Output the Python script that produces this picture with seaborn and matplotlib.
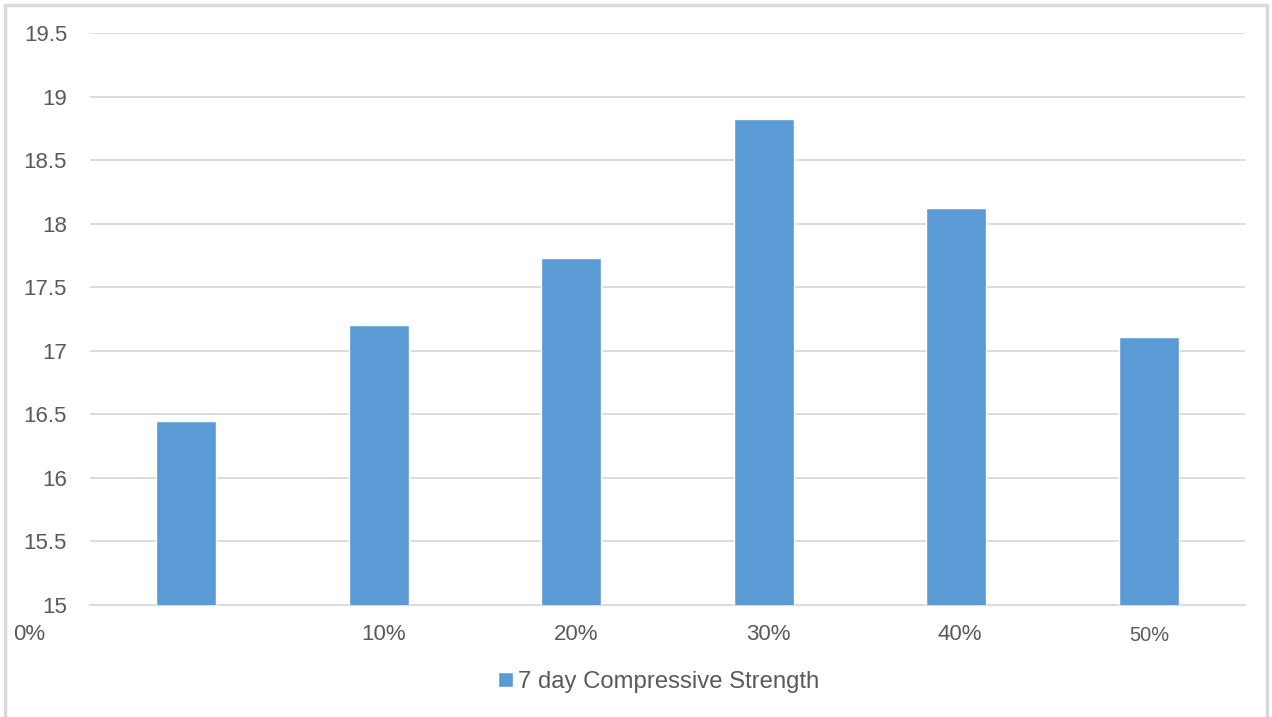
import matplotlib
matplotlib.use("Agg")
import matplotlib.pyplot as plt
import matplotlib.transforms as mtransforms
from matplotlib.patches import Rectangle
import seaborn as sns
import pandas as pd

# Replacement levels and 7-day compressive strength
categories = ["0%", "10%", "20%", "30%", "40%", "50%"]
strength = [16.45, 17.20, 17.73, 18.82, 18.12, 17.11]
series_name = "7 day Compressive Strength"
y_ticks = [15, 15.5, 16, 16.5, 17, 17.5, 18, 18.5, 19, 19.5]

df = pd.DataFrame({"level": categories, "strength": strength})

sns.set_theme(style="white")
plt.rcParams["font.family"] = ["Liberation Sans", "DejaVu Sans"]

BAR = "#5b9bd5"
GRID = "#d9d9d9"
TXT = "#595959"

fig = plt.figure(figsize=(12.72, 7.17), dpi=100)
ax = fig.add_axes([90 / 1272, 1 - 605 / 717, (1245 - 90) / 1272, (605 - 33) / 717])

sns.barplot(data=df, x="level", y="strength", color=BAR, saturation=1,
            width=0.31, label=series_name, ax=ax, zorder=3)

ax.set_ylim(15, 19.5)
ax.set_xlim(-0.5, len(categories) - 0.5)
ax.set_yticks(y_ticks)
ax.set_yticklabels([f"{v:g}" for v in y_ticks])
ax.yaxis.grid(True, color=GRID, linewidth=1.3, zorder=0)
ax.xaxis.grid(False)
for s in ["left", "right", "top"]:
    ax.spines[s].set_visible(False)
ax.spines["bottom"].set_color(GRID)
ax.spines["bottom"].set_linewidth(1.3)
ax.tick_params(axis="y", length=0, pad=16.5, labelsize=16, labelcolor=TXT)
ax.tick_params(axis="x", length=0, pad=14, labelsize=16, labelcolor=TXT)
ax.set_xlabel("")
ax.set_ylabel("")

# category labels sit slightly off their bars; the first one hangs at the far left
ax.set_xticks(range(len(categories)))
ax.set_xticklabels(categories)
label_shift = [-157, 4.5, 5, 5, 4, 1]
for lab, dx in zip(ax.get_xticklabels(), label_shift):
    lab.set_transform(lab.get_transform() +
                      mtransforms.ScaledTranslation(dx / 100, 0, fig.dpi_scale_trans))
last = ax.get_xticklabels()[-1]
last.set_fontsize(14.4)
last.set_transform(last.get_transform() +
                   mtransforms.ScaledTranslation(0, -2 / 100, fig.dpi_scale_trans))

handles, labels = ax.get_legend_handles_labels()
if ax.get_legend() is not None:
    ax.get_legend().remove()
fig.legend(handles, labels, loc="center", bbox_to_anchor=(658.5 / 1272, 1 - 682 / 717),
           frameon=False, fontsize=17.2, labelcolor=TXT, handlelength=0.62,
           handleheight=0.62, handletextpad=0.2)

# light frame around the chart area
fig.patches.append(Rectangle((5 / 1272, -0.05), (1267 - 5) / 1272, 1.05 - 5 / 717,
                             transform=fig.transFigure, fill=False,
                             edgecolor="#d9d9d9", linewidth=2.5))

fig.savefig("out.png", dpi=100, facecolor="white")
